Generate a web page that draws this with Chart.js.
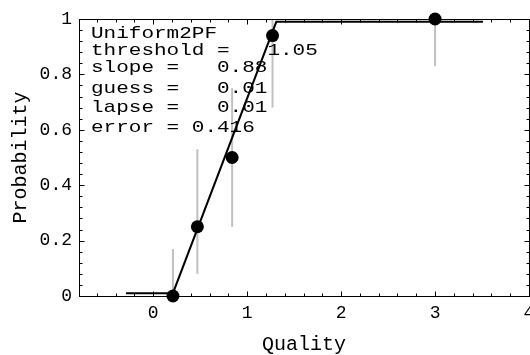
<!DOCTYPE html>
<html>
<head>
<meta charset="utf-8">
<script src="https://cdn.jsdelivr.net/npm/chart.js@4.4.0/dist/chart.umd.min.js"></script>
<style>
  html, body { margin: 0; padding: 0; background: #fff; }
</style>
</head>
<body>
<canvas id="chart" width="530" height="355"></canvas>
<script>
// observed proportions with their error ranges
var quality = [0.21, 0.47, 0.84, 1.27, 3.0];
var probability = [0, 0.25, 0.5, 0.94, 1.0];
var errLow = [0, 0.08, 0.25, 0.68, 0.83];
var errHigh = [0.17, 0.53, 0.75, 1.0, 1.0];

// fitted Uniform2PF curve (corner points)
var fitX = [-0.29, 0.21, 1.31, 3.51];
var fitY = [0.01, 0.01, 0.99, 0.99];

var xTicks = [0, 1, 2, 3, 4];
var yTicks = [0, 0.2, 0.4, 0.6, 0.8, 1];

var fitLabels = ['Uniform2PF', 'threshold =   1.05', 'slope =   0.88',
  'guess =   0.01', 'lapse =   0.01', 'error = 0.416'];
var fitBaselines = [38, 55, 72, 92.5, 112, 132];

var MONO = '"Liberation Mono", "Courier New", monospace';

var datasets = [];

datasets.push({
  label: 'data',
  data: quality.map(function(x, i) { return {x: x, y: probability[i]}; }),
  pointRadius: 6.5,
  pointBackgroundColor: '#000',
  pointBorderWidth: 0,
  showLine: false,
  clip: false,
  order: 0
});

datasets.push({
  label: 'fit',
  data: fitX.map(function(x, i) { return {x: x, y: fitY[i]}; }),
  showLine: true,
  borderColor: '#000',
  borderWidth: 2,
  pointRadius: 0,
  clip: false,
  order: 1
});

quality.forEach(function(x, i) {
  datasets.push({
    label: 'err' + i,
    data: [{x: x, y: errLow[i]}, {x: x, y: errHigh[i]}],
    showLine: true,
    borderColor: '#c0c0c0',
    borderWidth: 2,
    pointRadius: 0,
    clip: false,
    order: 2
  });
});

// Mathematica-like frame with inward ticks on every side
var framePlugin = {
  id: 'frame',
  afterDatasetsDraw: function(chart) {
    var ctx = chart.ctx, a = chart.chartArea;
    var xs = chart.scales.x, ys = chart.scales.y;
    var L = a.left + 0.5, R = a.right + 0.5, T = a.top + 0.5, B = a.bottom + 0.5;
    ctx.save();
    ctx.strokeStyle = '#000';
    ctx.lineWidth = 1;
    ctx.strokeRect(L, T, R - L, B - T);

    ctx.beginPath();
    var v, p, len;
    for (var k = -4; k <= 20; k++) {
      v = k * 0.2;
      if (v < xs.min || v > xs.max) continue;
      p = Math.round(xs.getPixelForValue(v)) + 0.5;
      len = (k % 5 === 0) ? 5 : 3;
      ctx.moveTo(p, B); ctx.lineTo(p, B - len);
      ctx.moveTo(p, T); ctx.lineTo(p, T + len);
    }
    for (var j = 0; j <= 25; j++) {
      v = j * 0.04;
      p = Math.round(ys.getPixelForValue(v)) + 0.5;
      len = (j % 5 === 0) ? 5 : 3;
      ctx.moveTo(L, p); ctx.lineTo(L + len, p);
      ctx.moveTo(R, p); ctx.lineTo(R - len, p);
    }
    ctx.stroke();

    // fit parameters
    ctx.fillStyle = '#000';
    ctx.font = '17px ' + MONO;
    ctx.textBaseline = 'alphabetic';
    ctx.textAlign = 'left';
    fitLabels.forEach(function(t, i) {
      ctx.save();
      ctx.translate(91, fitBaselines[i]);
      ctx.scale(1.235, 1);
      ctx.fillText(t, 0, 0);
      ctx.restore();
    });
    ctx.restore();
  }
};

new Chart(document.getElementById('chart'), {
  type: 'scatter',
  data: { datasets: datasets },
  options: {
    responsive: false,
    animation: false,
    layout: { autoPadding: false, padding: { top: 19, right: 1, bottom: 0, left: 0 } },
    plugins: { legend: { display: false }, tooltip: { enabled: false } },
    scales: {
      x: {
        type: 'linear',
        min: -0.79,
        max: 4,
        afterBuildTicks: function(s) { s.ticks = xTicks.map(function(v) { return {value: v}; }); },
        afterFit: function(s) { s.height = 59; s.paddingLeft = 0; s.paddingRight = 0; },
        grid: { display: false, drawTicks: false },
        border: { display: false },
        ticks: {
          padding: 6, color: '#000', autoSkip: false, maxRotation: 0,
          font: { family: MONO, size: 18 },
          callback: function(v) { return String(v); }
        },
        title: {
          display: true, text: 'Quality', color: '#000',
          font: { family: MONO, size: 20, lineHeight: 1 },
          padding: { top: 0, bottom: 0 }
        }
      },
      y: {
        type: 'linear',
        min: 0,
        max: 1,
        afterBuildTicks: function(s) { s.ticks = yTicks.map(function(v) { return {value: v}; }); },
        afterFit: function(s) { s.width = 79; s.paddingTop = 0; s.paddingBottom = 0; },
        grid: { display: false, drawTicks: false },
        border: { display: false },
        ticks: {
          padding: 7, color: '#000', autoSkip: false,
          font: { family: MONO, size: 18 },
          callback: function(v) { return String(v); }
        },
        title: {
          display: true, text: 'Probability', color: '#000',
          font: { family: MONO, size: 20, lineHeight: 1 },
          padding: { top: 11, bottom: 0 }
        }
      }
    }
  },
  plugins: [framePlugin]
});
</script>
</body>
</html>
